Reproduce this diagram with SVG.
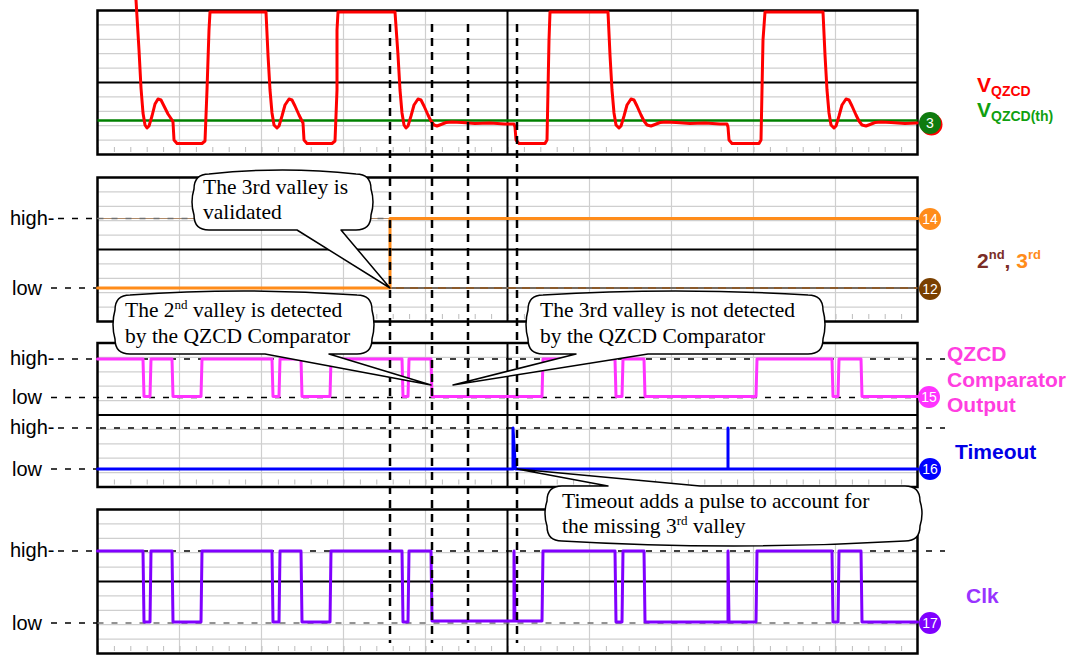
<svg xmlns="http://www.w3.org/2000/svg" width="1078" height="658" viewBox="0 0 1078 658">
<style>
.minor{stroke:#cfcfcf;stroke-width:1.2;fill:none}
.major{stroke:#000;stroke-width:2;fill:none}
.border{stroke:#000;stroke-width:2.5;fill:none}
.tick{stroke:#bdbdbd;stroke-width:5;stroke-dasharray:1 15.4}
.lvl{stroke:#000;stroke-width:1.5;stroke-dasharray:6 8;fill:none}
.lvlg{stroke:#707070;stroke-width:1.5;stroke-dasharray:6 8;fill:none}
.mark{stroke:#000;stroke-width:2.5;stroke-dasharray:8 6;fill:none}
.sig{fill:none;stroke-width:3;stroke-linejoin:round;stroke-linecap:round}
.bubble{fill:#fff;stroke:#000;stroke-width:1.5;stroke-linejoin:round}
.ct{font-family:"Liberation Serif","Times New Roman",serif;font-size:21.5px;fill:#000}
.ax{font-family:"Liberation Sans",Arial,sans-serif;font-size:20px;fill:#000}
.lab{font-family:"Liberation Sans",Arial,sans-serif;font-size:21px;font-weight:bold}
.num{font-family:"Liberation Sans",Arial,sans-serif;font-size:14px;fill:#fff;text-anchor:middle}
</style>
<defs>
<g id="grid">
<rect x="97.5" y="0" width="820" height="144" fill="#fff"/>
<path class="minor" d="M97.5 14.4H917.5M97.5 28.8H917.5M97.5 43.2H917.5M97.5 57.6H917.5M97.5 86.4H917.5M97.5 100.8H917.5M97.5 115.2H917.5M97.5 129.6H917.5"/>
<path class="minor" d="M179.5 0V144M261.5 0V144M343.5 0V144M425.5 0V144M589.5 0V144M671.5 0V144M753.5 0V144M835.5 0V144"/>
<line class="tick" x1="97.5" y1="139" x2="917.5" y2="139"/>
<path class="major" d="M97.5 72H917.5M507.5 0V144"/>
<rect class="border" x="97.5" y="0" width="820" height="144"/>
</g>
</defs>
<rect width="1078" height="658" fill="#fff"/>

<g id="panel-vqzcd">
<use href="#grid" y="10.5"/>
<line x1="97.5" y1="120.5" x2="917.5" y2="120.5" stroke="#008000" stroke-width="2.5"/>
<path class="sig" stroke="#ff0000" d="M136,0 L139,50 L141,88 L143,113 L145,125 L147,128 L149,126 L152,116 L155,104 L158,99 L161,100 L164,106 L168,114 L172,120 L173,122 L174,140 L177,143.5 L202,143.5 L205,141 L207,90 L209,30 L210,12 L266,12 L268,55 L270,90 L272,113 L274,125 L277,128 L279,126 L282,116 L285,105 L289,99 L292,100 L295,106 L299,115 L302,121 L303,123 L304,140 L307,143.5 L332,143.5 L335,141 L337,90 L337,30 L338,12 L395,12 L398,55 L400,90 L402,113 L404,125 L406,128 L408,126 L411,116 L414,105 L418,99 L421,100 L424,106 L428,115 L431,121 L434,125 L437,126 L441,124.5 L446,122.5 L452,122 L462,122.5 L475,123.5 L490,123 L505,124 L514,124 L515,127 L516,140 L519,143.5 L545,143.5 L547,140 L548,90 L549,40 L550,12 L608,12 L610,55 L612,90 L614,113 L616,125 L619,128 L621,126 L624,116 L627,105 L631,99 L634,100 L637,106 L641,115 L644,121 L647,125 L651,126 L655,124.5 L660,122.5 L666,122 L676,122.5 L690,123.5 L705,123 L720,124 L727,124 L728,127 L729,140 L732,143.5 L759,143.5 L761,140 L762,90 L763,40 L765,12 L823,12 L825,55 L827,90 L829,113 L831,125 L834,128 L836,126 L839,116 L842,105 L846,99 L849,100 L852,106 L856,115 L859,121 L862,125 L866,126 L870,124.5 L875,122.5 L881,122 L891,122.5 L905,123.5 L917,123"/>
</g>

<g id="panel-valleys">
<use href="#grid" y="177.5"/>
<line class="lvl" x1="58" y1="218.5" x2="97.5" y2="218.5"/>
<line class="lvl" x1="51" y1="288" x2="97.5" y2="288"/>
<line x1="97.5" y1="218.5" x2="390" y2="218.5" stroke="#b08a68" stroke-width="1"/>
<line class="lvlg" x1="97.5" y1="218.5" x2="917.5" y2="218.5"/>
<line x1="390" y1="288" x2="917.5" y2="288" stroke="#8b5a2b" stroke-width="1.8"/>
<line class="lvlg" x1="390" y1="288" x2="917.5" y2="288" stroke="#3a3a3a"/>
<path class="sig" stroke="#ff8c1a" d="M97.5,288 H390 V218.5 H917.5"/>
</g>

<g id="panel-qzcd-timeout">
<use href="#grid" y="343"/>
<line class="lvl" x1="58" y1="359" x2="945" y2="359"/>
<line class="lvl" x1="51" y1="397.5" x2="917.5" y2="397.5"/>
<line class="lvl" x1="58" y1="428" x2="945" y2="428"/>
<line class="lvl" x1="51" y1="469" x2="917.5" y2="469"/>
<path class="sig" stroke="#ff33ff" d="M97.5,359 H143 L144,396.5 H150 L151,359 H172 L173,396.5 H201 L202,359 H272 L273,396.5 H279 L280,359 H301 L302,396.5 H330 L331,359 H402 L403,396.5 H408 L409,359 H431 L432,396.5 H542 L543,359 H615 L616,396.5 H622 L623,359 H644 L645,396.5 H756 L757,359 H832 L833,396.5 H838 L839,359 H861 L862,396.5 H917.5"/>
<path class="sig" stroke="#0000ff" d="M97.5,469 H513 V428 L515.5,469 H728 V428 V469 H917.5"/>
</g>

<g id="panel-clk">
<use href="#grid" y="509.5"/>
<line class="lvl" x1="58" y1="551" x2="945" y2="551"/>
<line class="lvl" x1="51" y1="623" x2="97.5" y2="623"/>
<line class="lvlg" x1="97.5" y1="623" x2="917.5" y2="623"/>
<path class="sig" stroke="#8000ff" d="M97.5,551 H143 L144,622 H150 L151,551 H172 L173,622 H201 L202,551 H272 L273,622 H279 L280,551 H301 L302,622 H330 L331,551 H402 L403,622 H408 L409,551 H431 L432,621 H514 V551 L515,621 H542 L543,551 H615 L616,622 H622 L623,551 H644 L645,622 H728 V551 L729,622 H756 L757,551 H832 L833,622 H838 L839,551 H861 L862,622 H917.5"/>
</g>

<g id="connectors">
<line class="mark" x1="390" y1="24" x2="390" y2="643"/>
<line class="mark" x1="432" y1="24" x2="432" y2="643"/>
<line class="mark" x1="468" y1="24" x2="468" y2="643"/>
<line class="mark" x1="517" y1="24" x2="517" y2="643"/>
</g>

<g id="callout-validated">
<path class="bubble" d="M209,174 Q282.5,166 356,174 Q371,174 371,189 Q375,202 371,215 Q371,230 356,230 L341,230 L390,288 L297,230 L209,230 Q194,230 194,215 Q190,202 194,189 Q194,174 209,174 Z"/>
<text class="ct" x="203" y="194">The 3rd valley is</text>
<text class="ct" x="203" y="219">validated</text>
</g>

<g id="callout-detected">
<path class="bubble" d="M130,295 Q243.5,287 357,295 Q372,295 372,310 Q376,324.5 372,339 Q372,354 357,354 L329,354 L431,385 L265,354 L130,354 Q115,354 115,339 Q111,324.5 115,310 Q115,295 130,295 Z"/>
<text class="ct" x="125" y="317">The 2<tspan font-size="13" dy="-8">nd</tspan><tspan dy="8"> valley is detected</tspan></text>
<text class="ct" x="125" y="343">by the QZCD Comparator</text>
</g>

<g id="callout-not-detected">
<path class="bubble" d="M543,295 Q675.5,287 808,295 Q823,295 823,310 Q827,324.5 823,339 Q823,354 808,354 L648,354 L453,385 L576,354 L543,354 Q528,354 528,339 Q524,324.5 528,310 Q528,295 543,295 Z"/>
<text class="ct" x="540" y="317">The 3rd valley is not detected</text>
<text class="ct" x="540" y="343">by the QZCD Comparator</text>
</g>

<g id="callout-timeout">
<path class="bubble" d="M562,486 L608,486 L517,469 L700,486 L905,486 Q920,486 920,501 Q924,513.5 920,526 Q920,541 905,541 Q733.5,551 562,541 Q547,541 547,526 Q543,513.5 547,501 Q547,486 562,486 Z"/>
<text class="ct" x="562" y="508">Timeout adds a pulse to account for</text>
<text class="ct" x="562" y="533">the missing 3<tspan font-size="13" dy="-8">rd</tspan><tspan dy="8"> valley</tspan></text>
</g>

<g id="axis-labels">
<text class="ax" x="10" y="225">high-</text>
<text class="ax" x="12" y="295">low</text>
<text class="ax" x="10" y="365">high-</text>
<text class="ax" x="12" y="404">low</text>
<text class="ax" x="10" y="434">high-</text>
<text class="ax" x="12" y="476">low</text>
<text class="ax" x="10" y="557">high-</text>
<text class="ax" x="12" y="630">low</text>
</g>

<g id="signal-labels">
<text class="lab" x="977" y="92" fill="#ff0000">V<tspan font-size="14" dy="4">QZCD</tspan></text>
<text class="lab" x="977" y="117" fill="#10a010">V<tspan font-size="14" dy="4">QZCD(th)</tspan></text>
<text class="lab" x="977" y="268"><tspan fill="#7b2d26">2</tspan><tspan fill="#7b2d26" font-size="13" dy="-9">nd</tspan><tspan fill="#7b2d26" dy="9">, </tspan><tspan fill="#ff8c1a">3</tspan><tspan fill="#ff8c1a" font-size="13" dy="-9">rd</tspan></text>
<text class="lab" x="947" y="361" fill="#ff3ee0">QZCD</text>
<text class="lab" x="947" y="387" fill="#ff3ee0">Comparator</text>
<text class="lab" x="947" y="412" fill="#ff3ee0">Output</text>
<text class="lab" x="955" y="459" fill="#0000e6">Timeout</text>
<text class="lab" x="966" y="603" fill="#9933ff">Clk</text>
</g>

<g id="channel-markers">
<circle cx="931.5" cy="124.5" r="11" fill="#ff0000"/>
<circle cx="930" cy="123" r="11" fill="#0f7b0f"/>
<text class="num" x="930" y="128">3</text>
<circle cx="930" cy="219" r="11" fill="#ff8c1a"/>
<text class="num" x="930" y="224">14</text>
<circle cx="930" cy="289" r="11" fill="#7a4000"/>
<text class="num" x="930" y="294">12</text>
<circle cx="929" cy="397" r="11" fill="#ff33ff"/>
<text class="num" x="929" y="402">15</text>
<circle cx="930" cy="469" r="11" fill="#0000ff"/>
<text class="num" x="930" y="474">16</text>
<circle cx="930" cy="623" r="11" fill="#7f00ff"/>
<text class="num" x="930" y="628">17</text>
</g>
</svg>
